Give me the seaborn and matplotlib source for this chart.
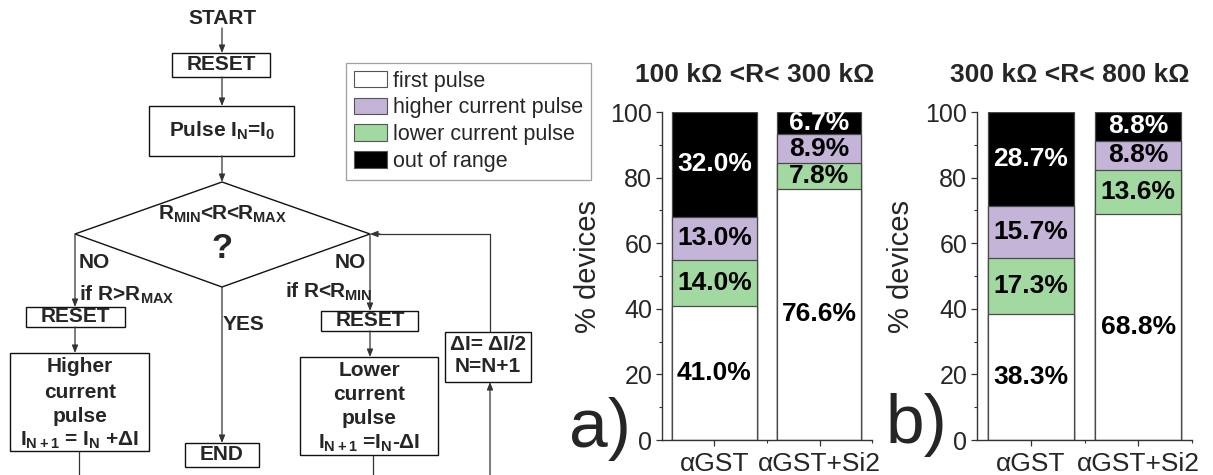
import matplotlib
matplotlib.use("Agg")
import numpy as np
import pandas as pd
import matplotlib.pyplot as plt
from matplotlib.patches import Patch, Polygon, Rectangle
from matplotlib.ticker import MultipleLocator, FixedLocator
import seaborn as sns

# ---------------------------------------------------------------- data
materials = ["αGST", "αGST+Si2"]
stack_order = ["first pulse", "lower current pulse", "higher current pulse", "out of range"]
legend_order = ["first pulse", "higher current pulse", "lower current pulse", "out of range"]
colors = {
    "first pulse": "#ffffff",
    "higher current pulse": "#c4b4d8",
    "lower current pulse": "#a2d9a0",
    "out of range": "#000000",
}

# 100 kΩ < R < 300 kΩ  (per material: αGST, αGST+Si2)
low_first = [41.0, 76.6]
low_lower = [14.0, 7.8]
low_higher = [13.0, 8.9]
low_out = [32.0, 6.7]

# 300 kΩ < R < 800 kΩ
high_first = [38.3, 68.8]
high_lower = [17.3, 13.6]
high_higher = [15.7, 8.8]
high_out = [28.7, 8.8]

panel_titles = ["100 kΩ <R< 300 kΩ", "300 kΩ <R< 800 kΩ"]
panel_tags = ["a)", "b)"]
y_ticks = [0, 20, 40, 60, 80, 100]


def stacked_frame(first, lower, higher, out):
    parts = {"first pulse": first, "lower current pulse": lower,
             "higher current pulse": higher, "out of range": out}
    rows = []
    for i, m in enumerate(materials):
        acc = 0.0
        for cat in stack_order:
            v = parts[cat][i]
            rows.append({"material": m, "category": cat, "value": v,
                         "bottom": acc, "top": acc + v})
            acc += v
    return pd.DataFrame(rows)


frames = [stacked_frame(low_first, low_lower, low_higher, low_out),
          stacked_frame(high_first, high_lower, high_higher, high_out)]

# ---------------------------------------------------------------- style
sns.set_style("ticks")
plt.rcParams["font.family"] = ["Liberation Sans", "DejaVu Sans"]
plt.rcParams["mathtext.fontset"] = "custom"
plt.rcParams["mathtext.rm"] = "Liberation Sans:bold"
plt.rcParams["mathtext.it"] = "Liberation Sans:bold"
plt.rcParams["mathtext.bf"] = "Liberation Sans:bold"
plt.rcParams["mathtext.default"] = "bf"

W, H = 1213, 475
fig = plt.figure(figsize=(W / 100, H / 100), dpi=100)
fig.patch.set_facecolor("white")

# ---------------------------------------------------------------- flowchart (pixel canvas)
fc = fig.add_axes([0, 0, 1, 1])
fc.set_xlim(0, W)
fc.set_ylim(H, 0)
fc.axis("off")

LINE = "#333333"
FS = 15


def box(x0, y0, x1, y1):
    fc.add_patch(Rectangle((x0, y0), x1 - x0, y1 - y0, fill=False,
                           edgecolor="#111111", lw=1.0))


def seg(points):
    xs, ys = zip(*points)
    fc.plot(xs, ys, color=LINE, lw=0.9, solid_capstyle="butt")


def arrow(x0, y0, x1, y1):
    fc.annotate("", xy=(x1, y1), xytext=(x0, y0),
                arrowprops=dict(arrowstyle="-|>,head_length=0.45,head_width=0.18",
                                color=LINE, lw=0.9, shrinkA=0, shrinkB=0,
                                mutation_scale=10))


def label(x, y, s, ha="center", size=FS):
    fc.text(x, y, s, ha=ha, va="center", fontsize=size, fontweight="bold")


label(222, 19, "START")
arrow(222, 28, 222, 53)
box(172, 53, 270, 77)
label(221, 65, "RESET")
arrow(222, 77, 222, 106)
box(149, 106, 294, 156)
label(222, 131, r"Pulse I$_{N}$=I$_{0}$")
arrow(222, 156, 222, 182)

fc.add_patch(Polygon([(222, 182), (370, 234), (222, 287), (75, 234)],
                     closed=True, fill=False, edgecolor="#111111", lw=1.0))
label(222, 214, r"R$_{MIN}$<R<R$_{MAX}$")
label(222, 248, "?", size=25)

# R above the window
arrow(75, 234, 75, 307)
label(79, 262, "NO", ha="left")
label(79, 295, r"if R>R$_{MAX}$", ha="left")
box(26, 307, 125, 327)
label(75, 317, "RESET")
arrow(75, 327, 75, 353)
box(10, 353, 149, 451)
for yy, s in zip([367, 392, 416, 440],
                 ["Higher", "current", "pulse", r"I$_{N+1}$ = I$_{N}$ +ΔI"]):
    label(80, yy, s)
seg([(79, 451), (79, 476)])

# R inside the window
arrow(222, 287, 222, 443)
label(223, 325, "YES", ha="left")
box(185, 443, 259, 467)
label(222, 455, "END")

# R below the window
arrow(370, 234, 370, 311)
label(366, 262, "NO", ha="right")
label(372, 292, r"if R<R$_{MIN}$", ha="right")
box(321, 311, 418, 331)
label(370, 321, "RESET")
arrow(370, 331, 370, 357)
box(300, 357, 438, 455)
for yy, s in zip([371, 395, 418, 443],
                 ["Lower", "current", "pulse", r"I$_{N+1}$ =I$_{N}$-ΔI"]):
    label(369, yy, s)
seg([(373, 455), (373, 476)])

# step halving loop
box(445, 332, 531, 382)
label(488, 345, "ΔI= ΔI/2")
label(488, 367, "N=N+1")
arrow(490, 476, 490, 382)
seg([(490, 332), (490, 234), (372, 234)])
arrow(380, 234, 370, 234)

# ---------------------------------------------------------------- stacked bars
axes_px = [(662, 112, 872, 440), (977, 112, 1192, 440)]
title_pos = [(755, 75), (1070, 75)]
tag_pos = [(600, 447), (916, 443)]

for k, (df, (x0, y0, x1, y1)) in enumerate(zip(frames, axes_px)):
    ax = fig.add_axes([x0 / W, 1 - y1 / H, (x1 - x0) / W, (y1 - y0) / H])
    ax.set_facecolor("none")
    # tallest cumulative bar first so shorter ones sit on top of it
    for cat in reversed(stack_order):
        sub = df[df["category"] == cat]
        sns.barplot(data=sub, x="material", y="top", order=materials,
                    color=colors[cat], saturation=1, edgecolor="#4a4a4a",
                    linewidth=0.9, errorbar=None, width=0.8, ax=ax)
    for _, r in df.iterrows():
        xi = materials.index(r["material"])
        ax.text(xi, (r["bottom"] + r["top"]) / 2, f"{r['value']:.1f}%",
                ha="center", va="center", fontsize=19, fontweight="bold",
                color="white" if r["category"] == "out of range" else "black")

    ax.set_xlim(-0.5, 1.5)
    ax.set_ylim(0, 100)
    ax.set_yticks(y_ticks)
    ax.yaxis.set_minor_locator(MultipleLocator(10))
    ax.xaxis.set_minor_locator(FixedLocator([0.5, 1.5]))
    ax.set_xlabel("")
    ax.set_ylabel("% devices", fontsize=21, va="center")
    ax.yaxis.set_label_coords(-0.352, 0.53)
    sns.despine(ax=ax)
    for sp in ("left", "bottom"):
        ax.spines[sp].set_color("#333333")
        ax.spines[sp].set_linewidth(1.0)
    ax.tick_params(axis="both", which="major", length=4.5, width=0.9,
                   color="#333333", labelsize=18, pad=2.5)
    ax.tick_params(axis="both", which="minor", length=2.2, width=0.8,
                   color="#333333")
    ax.tick_params(axis="x", labelsize=19, pad=4)

    tx, ty = title_pos[k]
    fc.text(tx, ty, panel_titles[k], ha="center", va="center",
            fontsize=19, fontweight="bold")
    gx, gy = tag_pos[k]
    fc.text(gx, gy, panel_tags[k], ha="center", va="baseline", fontsize=50)

# ---------------------------------------------------------------- legend
handles = [Patch(facecolor=colors[c], edgecolor="#555555", linewidth=0.8)
           for c in legend_order]
leg = fig.legend(handles, legend_order, loc="upper left",
                 bbox_to_anchor=(346 / W, 1 - 63 / H), frameon=True,
                 fancybox=False, edgecolor="#888888", fontsize=15.5,
                 handlelength=1.55, handleheight=0.8, labelspacing=0.27,
                 borderpad=0.35, handletextpad=0.3, borderaxespad=0)
leg.get_frame().set_linewidth(0.9)

fig.savefig("out.png", dpi=100, facecolor="white")
